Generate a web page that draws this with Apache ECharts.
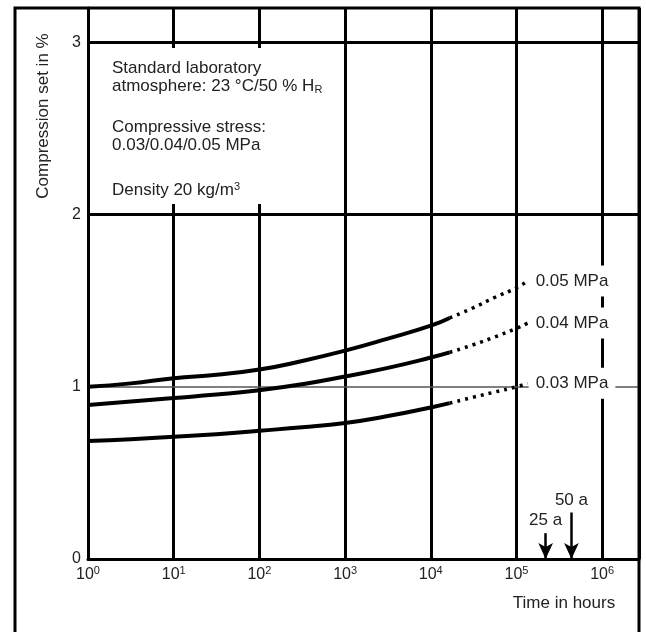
<!DOCTYPE html>
<html>
<head>
<meta charset="utf-8">
<script src="https://cdn.jsdelivr.net/npm/echarts@6/dist/echarts.min.js"></script>
<style>
  html, body { margin: 0; padding: 0; background: #fff; }
  #chart { width: 646px; height: 632px; }
</style>
</head>
<body>
<div id="chart"></div>
<script>
// time in hours, log axis
const solidHours = [1, 3.16, 10, 31.6, 100, 316, 1000, 3162, 10000, 16600];
const dottedHours = [16600, 31600, 56200, 100000, 135000];
const stressNames = ['0.05 MPa', '0.04 MPa', '0.03 MPa'];
// compression set in %
const solidSet = [
    [1.00, 1.02, 1.05, 1.07, 1.10, 1.15, 1.21, 1.28, 1.355, 1.40],
    [0.895, 0.915, 0.935, 0.955, 0.98, 1.015, 1.06, 1.11, 1.17, 1.20],
    [0.685, 0.695, 0.71, 0.725, 0.745, 0.765, 0.79, 0.83, 0.88, 0.905]
];
const dottedSet = [
    [1.40, 1.46, 1.52, 1.575, 1.615],
    [1.20, 1.245, 1.29, 1.34, 1.37],
    [0.905, 0.94, 0.97, 1.00, 1.02]
];
const gridValues = [1, 2, 3];
const arrowLabels = ['25 a', '50 a'];
const arrowHours = [219000, 438000];
const arrowTops = [0.15, 0.27];

const font = 'Liberation Sans, Arial, Helvetica, sans-serif';
const ink = '#222';

const series = [];
// horizontal grid lines (1 is thin)
series.push({
    type: 'line',
    data: [],
    z: 1,
    markLine: {
        z: 1,
        silent: true,
        symbol: 'none',
        label: {show: false},
        data: gridValues.map(v => ({
            yAxis: v,
            lineStyle: {type: 'solid', width: v === 1 ? 1.5 : 3, color: v === 1 ? '#555' : '#000'}
        }))
    }
});
stressNames.forEach((name, i) => {
    series.push({
        name: name,
        type: 'line',
        z: 3,
        smooth: true,
        showSymbol: false,
        lineStyle: {color: '#000', width: 4},
        data: solidHours.map((h, j) => [h, solidSet[i][j]])
    });
    series.push({
        name: name,
        type: 'line',
        z: 4,
        smooth: true,
        showSymbol: false,
        lineStyle: {color: '#000', width: 3.5, type: [3, 5]},
        endLabel: {
            show: true,
            formatter: '{a}',
            color: ink,
            fontFamily: font,
            fontSize: 17,
            backgroundColor: '#fff',
            padding: [7, 7],
            distance: 1
        },
        data: dottedHours.map((h, j) => [h, dottedSet[i][j]])
    });
});
// 25 a / 50 a arrows
series.push({
    type: 'line',
    data: [],
    z: 5,
    markLine: {
        silent: true,
        symbol: ['none', 'arrow'],
        symbolSize: [11, 16],
        lineStyle: {type: 'solid', width: 2.5, color: '#000'},
        label: {show: true, position: 'start', formatter: '{b}', color: ink, fontFamily: font, fontSize: 17, distance: 4},
        data: arrowHours.map((h, i) => [
            {coord: [h, arrowTops[i]], name: arrowLabels[i]},
            {coord: [h, 0]}
        ])
    }
});

const chart = echarts.init(document.getElementById('chart'));
chart.setOption({
    animation: false,
    backgroundColor: '#fff',
    grid: {left: 88, right: 7, top: 8, bottom: 73},
    xAxis: {
        type: 'log',
        logBase: 10,
        min: 1,
        max: 2690000,
        splitNumber: 7,
        axisLine: {show: true, lineStyle: {color: '#000', width: 3}},
        axisTick: {show: false},
        splitLine: {show: true, lineStyle: {color: '#000', width: 3}},
        axisLabel: {
            margin: 6,
            showMaxLabel: false,
            formatter: v => {
                const e = Math.log10(v);
                if (Math.abs(e - Math.round(e)) > 0.01) return '';
                return '{b|10}{s|' + Math.round(e) + '}';
            },
            rich: {
                b: {fontSize: 16, fontFamily: font, color: ink, verticalAlign: 'bottom', lineHeight: 18},
                s: {fontSize: 11, fontFamily: font, color: ink, verticalAlign: 'top', lineHeight: 18}
            }
        }
    },
    yAxis: {
        type: 'value',
        min: 0,
        max: 3.2,
        interval: 1,
        axisLine: {show: true, lineStyle: {color: '#000', width: 3}},
        axisTick: {show: false},
        splitLine: {show: false},
        axisLabel: {
            margin: 7,
            color: ink,
            fontFamily: font,
            fontSize: 16,
            showMaxLabel: false,
            formatter: v => (Number.isInteger(v) ? String(v) : '')
        }
    },
    graphic: [
        {
            type: 'rect',
            silent: true,
            z: 10,
            shape: {x: 15, y: 8, width: 624, height: 700},
            style: {fill: 'none', stroke: '#000', lineWidth: 3}
        },
        {
            // white box behind the note, interrupts the grid lines
            type: 'rect',
            silent: true,
            z: 5,
            shape: {x: 92, y: 48, width: 238, height: 156},
            style: {fill: '#fff'}
        },
        {
            type: 'text',
            silent: true,
            z: 6,
            x: 43, y: 116,
            rotation: Math.PI / 2,
            style: {text: 'Compression set in %', font: '17px ' + font, fill: ink, align: 'center', verticalAlign: 'middle'}
        },
        {
            type: 'text',
            silent: true,
            z: 6,
            x: 112, y: 59,
            style: {
                text: '{n|Standard laboratory}\n{n|atmosphere: 23 °C/50 % H}{sub|R}',
                fill: ink, verticalAlign: 'top',
                rich: {
                    n: {fontSize: 17, fontFamily: font, lineHeight: 18, verticalAlign: 'middle'},
                    sub: {fontSize: 11, fontFamily: font, lineHeight: 18, verticalAlign: 'bottom'}
                }
            }
        },
        {
            type: 'text',
            silent: true,
            z: 6,
            x: 112, y: 118,
            style: {text: 'Compressive stress:\n0.03/0.04/0.05 MPa', font: '17px ' + font, lineHeight: 18, fill: ink, verticalAlign: 'top'}
        },
        {
            type: 'text',
            silent: true,
            z: 6,
            x: 112, y: 181,
            style: {
                text: '{n|Density 20 kg/m}{sup|3}',
                fill: ink, verticalAlign: 'top',
                rich: {
                    n: {fontSize: 17, fontFamily: font, lineHeight: 18, verticalAlign: 'bottom'},
                    sup: {fontSize: 11, fontFamily: font, lineHeight: 18, verticalAlign: 'top'}
                }
            }
        },
        {
            type: 'text',
            silent: true,
            z: 6,
            x: 564, y: 603,
            style: {text: 'Time in hours', font: '17px ' + font, fill: ink, align: 'center', verticalAlign: 'middle'}
        }
    ],
    series: series
});
</script>
</body>
</html>
